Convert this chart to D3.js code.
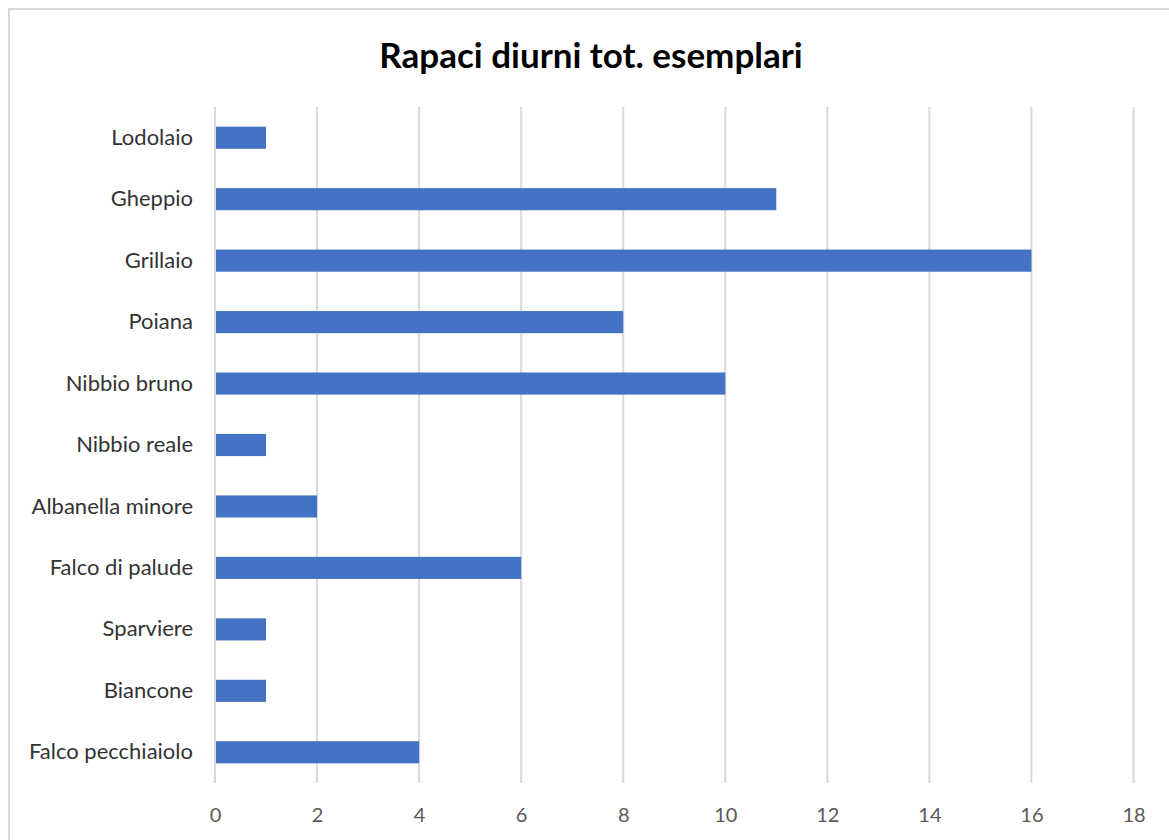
<!DOCTYPE html>
<html>
<head>
<meta charset="utf-8">
<script src="https://cdn.jsdelivr.net/npm/d3@7"></script>
<style>
  html, body { margin: 0; padding: 0; background: #fff; }
  svg { display: block; }
</style>
</head>
<body>
<svg id="chart" width="1169" height="840"></svg>
<script>
// Species (top to bottom) and number of individuals observed
const categories = [
  "Lodolaio", "Gheppio", "Grillaio", "Poiana ", "Nibbio bruno", "Nibbio reale",
  "Albanella minore", "Falco di palude", "Sparviere", "Biancone", "Falco pecchiaiolo"
];
const values = [1, 11, 16, 8, 10, 1, 2, 6, 1, 1, 4];
const tickValues = [0, 2, 4, 6, 8, 10, 12, 14, 16, 18];
const chartTitle = "Rapaci diurni tot. esemplari";

const svg = d3.select("#chart");
const W = 1169, H = 840;
const font = "Lato, 'Open Sans', sans-serif";

// outer frame of the chart area
svg.append("rect")
  .attr("x", 9).attr("y", 9)
  .attr("width", W + 20).attr("height", H + 20)
  .attr("fill", "#fff")
  .attr("stroke", "#d9d9d9").attr("stroke-width", 2);

const plot = { left: 215, right: 1133.5, top: 107, bottom: 783 };

const x = d3.scaleLinear().domain([0, 18]).range([plot.left, plot.right]);
const y = d3.scaleBand().domain(categories).range([plot.top, plot.bottom]).paddingInner(0.64).paddingOuter(0.32);

// vertical gridlines
svg.append("g")
  .selectAll("line")
  .data(tickValues)
  .join("line")
  .attr("x1", d => x(d)).attr("x2", d => x(d))
  .attr("y1", plot.top).attr("y2", plot.bottom)
  .attr("stroke", "#d9d9d9").attr("stroke-width", 2);

// bars
svg.append("g")
  .selectAll("rect")
  .data(categories.map((c, i) => ({ c, v: values[i] })))
  .join("rect")
  .attr("x", x(0) + 1)
  .attr("y", d => y(d.c))
  .attr("width", d => x(d.v) - x(0) - 1)
  .attr("height", y.bandwidth())
  .attr("fill", "#4472c4");

// x axis tick labels
const xAxis = d3.axisBottom(x).tickValues(tickValues).tickSize(0).tickPadding(0);
const gx = svg.append("g").attr("transform", `translate(0,${plot.bottom + 32})`).call(xAxis);
gx.select(".domain").remove();
gx.selectAll("text")
  .attr("dy", "0.35em")
  .attr("font-family", font).attr("font-size", 20)
  .attr("fill", "#595959");

// y axis category labels
const yAxis = d3.axisLeft(y).tickSize(0).tickPadding(22);
const gy = svg.append("g").attr("transform", `translate(${plot.left},0)`).call(yAxis);
gy.select(".domain").remove();
gy.selectAll("text")
  .attr("font-family", font).attr("font-size", 22)
  .attr("fill", "#333");

// title
svg.append("text")
  .attr("x", 591).attr("y", 54)
  .attr("text-anchor", "middle").attr("dominant-baseline", "central")
  .attr("font-family", font).attr("font-size", 35).attr("font-weight", "bold")
  .attr("fill", "#000")
  .text(chartTitle);
</script>
</body>
</html>
